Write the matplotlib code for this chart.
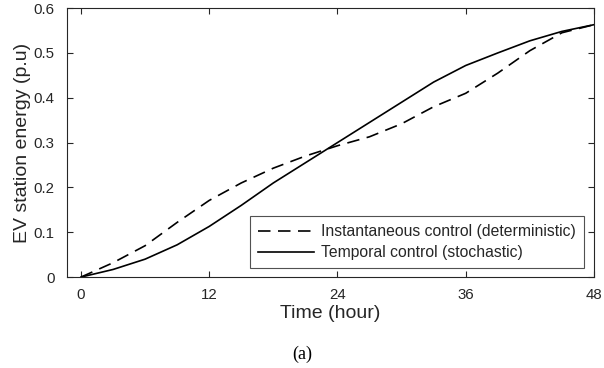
import numpy as np
import matplotlib
matplotlib.use('Agg')
from matplotlib import pyplot as plt

# hours and energy (p.u)
hours = [0, 3, 6, 9, 12, 15, 18, 21, 24, 27, 30, 33, 36, 39, 42, 45, 48]
instantaneous = [0, 0.032, 0.07, 0.122, 0.171, 0.21, 0.243, 0.27, 0.293,
                 0.313, 0.342, 0.38, 0.41, 0.455, 0.505, 0.545, 0.563]
temporal = [0, 0.017, 0.04, 0.072, 0.113, 0.16, 0.21, 0.255, 0.30,
            0.345, 0.39, 0.435, 0.472, 0.50, 0.527, 0.548, 0.563]
xticks = [0, 12, 24, 36, 48]
yticks = [0, 0.1, 0.2, 0.3, 0.4, 0.5, 0.6]

plt.rcParams['font.family'] = ['Liberation Sans', 'DejaVu Sans']
dark = '#262626'

fig = plt.figure(figsize=(6.04, 3.68), dpi=100)
ax = fig.add_axes([0.111, 0.247, 0.8724, 0.731])

ax.plot(hours, instantaneous, color='black', lw=1.2, dashes=[7.5, 4.5],
        label='Instantaneous control (deterministic)')
ax.plot(hours, temporal, color='black', lw=1.2,
        label='Temporal control (stochastic)')

ax.set_xlim(-1.3, 48)
ax.set_ylim(0, 0.6)
ax.set_xticks(xticks)
ax.set_yticks(yticks)
ax.set_yticklabels(['0', '0.1', '0.2', '0.3', '0.4', '0.5', '0.6'])
ax.tick_params(direction='in', top=True, right=True, length=4, width=0.8,
               labelsize=10.8, colors=dark, labelcolor=dark)
ax.tick_params(axis='x', pad=8)
ax.tick_params(axis='y', pad=9)
for s in ax.spines.values():
    s.set_color(dark)
    s.set_linewidth(0.8)

ax.set_xlabel('Time (hour)', fontsize=14, color=dark, labelpad=2)
ax.set_ylabel('EV station energy (p.u)', fontsize=14, color=dark, labelpad=2)

leg = ax.legend(loc='lower right', bbox_to_anchor=(0.981, 0.033), fontsize=11.3,
                frameon=True, fancybox=False, edgecolor=dark, handlelength=3.6,
                handletextpad=0.45, borderpad=0.5, labelspacing=0.4,
                borderaxespad=0)
leg.get_frame().set_linewidth(0.8)
for t in leg.get_texts():
    t.set_color(dark)

fig.text(0.5, 0.038, '(a)', family='Liberation Serif', fontsize=13,
         ha='center', va='center')

plt.savefig('out.png', dpi=100)
